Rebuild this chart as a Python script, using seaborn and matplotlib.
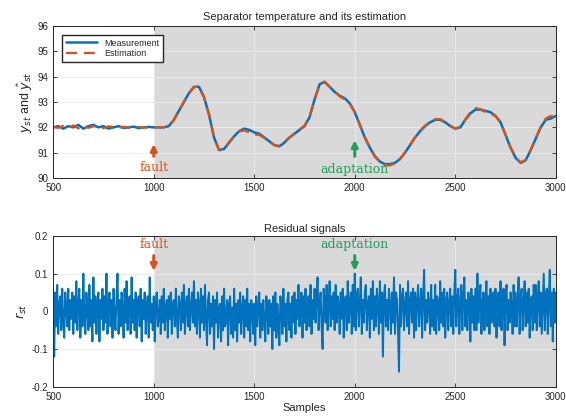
import matplotlib
matplotlib.use("Agg")
import matplotlib.pyplot as plt
import numpy as np
import pandas as pd
import seaborn as sns

# ---- data -------------------------------------------------------------------
# separator temperature, one value every 25 samples (500 ... 3000)
temp_samples = list(range(500, 3001, 25))
measurement = [
    92.0, 92.05, 91.95, 92.05, 92.0, 92.1, 91.95, 92.05, 92.1, 92.0,
    92.05, 91.95, 92.0, 92.05, 91.98, 92.0, 92.03, 91.97, 92.0, 92.02,
    92.0, 92.0, 92.0, 92.05, 92.3, 92.65, 93.0, 93.35, 93.6, 93.6,
    93.2, 92.5, 91.6, 91.1, 91.15, 91.4, 91.65, 91.85, 91.95, 91.9,
    91.8, 91.75, 91.6, 91.45, 91.3, 91.25, 91.4, 91.6, 91.75, 91.9,
    92.05, 92.4, 93.1, 93.7, 93.8, 93.6, 93.4, 93.25, 93.15, 92.95,
    92.6, 92.1, 91.6, 91.2, 90.85, 90.65, 90.55, 90.55, 90.6, 90.75,
    91.0, 91.3, 91.6, 91.85, 92.05, 92.2, 92.3, 92.3, 92.2, 92.05,
    91.95, 92.0, 92.3, 92.55, 92.7, 92.7, 92.65, 92.6, 92.45, 92.2,
    91.7, 91.2, 90.8, 90.6, 90.7, 91.1, 91.55, 92.0, 92.3, 92.35,
    92.45,
]
estimation = [
    92.02, 91.98, 92.06, 91.97, 92.08, 91.96, 92.07, 91.98, 92.05, 92.03,
    91.97, 92.04, 92.02, 91.98, 92.03, 91.99, 92.0, 92.02, 91.99, 92.0,
    92.01, 92.0, 92.01, 92.04, 92.28, 92.64, 93.01, 93.33, 93.58, 93.62,
    93.18, 92.52, 91.62, 91.12, 91.14, 91.42, 91.64, 91.84, 91.88, 91.8,
    91.72, 91.7, 91.58, 91.45, 91.3, 91.27, 91.42, 91.6, 91.76, 91.92,
    92.07, 92.42, 93.08, 93.68, 93.79, 93.6, 93.42, 93.22, 93.1, 92.92,
    92.6, 92.12, 91.62, 91.22, 90.87, 90.62, 90.5, 90.5, 90.57, 90.75,
    91.02, 91.32, 91.62, 91.87, 92.07, 92.22, 92.32, 92.32, 92.22, 92.07,
    91.95, 92.02, 92.32, 92.6, 92.76, 92.72, 92.6, 92.54, 92.45, 92.22,
    91.72, 91.22, 90.82, 90.62, 90.72, 91.12, 91.57, 92.02, 92.35, 92.45,
    92.4,
]

# residual signal, one value every 5 samples (500 ... 3000)
resid_samples = list(range(500, 3001, 5))
residual = [
    0.03, -0.12, 0.05, -0.04, 0.07, -0.06, 0.02, 0.04, -0.05, 0.06, -0.03, -0.07, 0.05, 0.01, -0.04, 0.06, -0.05, 0.03, -0.02, 0.05,
    -0.06, 0.04, -0.03, 0.08, -0.05, 0.02, 0.06, -0.07, 0.03, -0.04, 0.1, -0.02, -0.06, 0.05, 0.01, -0.05, 0.07, -0.04, 0.03, -0.08,
    0.09, -0.03, 0.04, -0.06, 0.02, 0.05, -0.08, 0.03, -0.02, 0.06, -0.05, 0.04, -0.03, 0.1, -0.06, 0.02, 0.05, -0.04, 0.03, -0.07,
    0.06, -0.02, -0.05, 0.04, 0.1, -0.06, 0.03, -0.04, 0.05, 0.01, -0.07, 0.06, -0.03, 0.08, -0.05, 0.02, 0.04, -0.06, 0.09, -0.03,
    0.03, -0.05, 0.05, -0.07, 0.02, 0.04, -0.04, 0.06, -0.08, 0.03, -0.02, 0.05, -0.06, 0.01, 0.04, -0.07, 0.09, -0.03, 0.02, -0.05,
    0.04, -0.08, 0.02, 0.05, -0.04, -0.02, 0.03, -0.06, 0.04, -0.03, 0.06, -0.05, 0.01, 0.03, -0.07, 0.04, -0.02, 0.05, -0.06, 0.02,
    0.03, -0.04, 0.06, -0.02, -0.07, 0.04, 0.02, -0.05, 0.05, -0.03, 0.07, -0.06, 0.02, 0.04, -0.04, 0.06, -0.05, 0.01, 0.05, -0.03,
    0.08, -0.04, 0.03, -0.06, 0.05, 0.02, -0.07, 0.06, -0.03, 0.04, -0.05, 0.07, -0.02, -0.09, 0.03, 0.05, -0.06, 0.02, -0.04, 0.04,
    -0.1, 0.03, -0.03, 0.05, -0.07, 0.01, 0.02, -0.08, 0.04, -0.05, 0.06, -0.04, -0.02, 0.03, -0.09, 0.02, 0.04, -0.06, 0.01, -0.07,
    0.06, -0.05, 0.02, -0.08, 0.03, -0.03, 0.05, -0.06, 0.01, 0.04, -0.07, 0.03, -0.04, 0.06, -0.05, 0.02, -0.08, 0.03, 0.01, -0.06,
    0.02, -0.09, 0.04, -0.04, 0.01, 0.05, -0.07, 0.02, -0.05, 0.03, -0.02, -0.08, 0.04, 0.01, -0.06, 0.03, -0.04, 0.02, -0.1, 0.04,
    -0.05, 0.05, -0.07, 0.02, -0.03, -0.09, 0.04, 0.01, -0.06, 0.06, -0.04, 0.02, -0.08, 0.03, 0.05, -0.05, 0.02, -0.07, 0.04, -0.03,
    0.05, -0.06, 0.03, -0.02, 0.07, -0.04, 0.02, 0.05, -0.07, 0.04, -0.03, 0.06, -0.05, 0.01, 0.04, -0.04, 0.07, -0.06, 0.03, -0.02,
    0.06, -0.03, 0.04, 0.09, -0.05, 0.02, 0.05, -0.04, -0.1, 0.06, 0.03, -0.03, 0.07, -0.05, 0.02, 0.08, -0.04, 0.04, -0.02, 0.05,
    -0.05, 0.07, -0.03, 0.04, 0.02, -0.06, 0.05, -0.02, 0.06, -0.07, 0.03, 0.04, -0.05, 0.08, -0.03, 0.02, 0.05, -0.06, 0.07, -0.04,
    0.1, -0.05, 0.04, 0.06, -0.04, 0.02, 0.09, -0.06, 0.03, -0.03, 0.05, 0.07, -0.05, 0.02, 0.04, -0.07, 0.06, -0.02, 0.08, -0.05,
    0.04, -0.04, 0.06, 0.02, -0.06, 0.08, -0.03, 0.05, -0.12, 0.04, 0.07, -0.04, 0.03, -0.05, 0.06, 0.02, -0.06, 0.05, -0.03, 0.09,
    -0.06, 0.05, 0.03, -0.05, -0.16, 0.07, -0.04, 0.04, 0.06, -0.05, 0.02, 0.05, -0.04, 0.08, -0.06, 0.03, 0.05, -0.03, 0.06, -0.07,
    0.05, -0.05, 0.03, 0.07, -0.04, 0.02, 0.06, -0.07, 0.04, 0.11, -0.05, 0.03, -0.03, 0.05, 0.02, -0.06, 0.07, -0.04, 0.03, -0.05,
    0.07, -0.06, 0.04, 0.02, -0.05, 0.08, -0.03, 0.05, -0.04, 0.06, -0.07, 0.03, 0.05, -0.05, 0.02, 0.06, -0.04, 0.04, -0.06, 0.05,
    0.11, -0.04, 0.03, 0.06, -0.06, 0.02, 0.07, -0.05, 0.04, 0.09, -0.04, 0.03, -0.05, 0.05, 0.02, -0.08, 0.06, -0.03, 0.04, -0.05,
    0.06, -0.05, 0.1, -0.03, 0.04, 0.07, -0.06, 0.02, 0.05, -0.05, 0.03, 0.08, -0.04, 0.04, -0.06, 0.06, -0.03, 0.02, 0.05, -0.04,
    0.06, -0.07, 0.03, 0.05, -0.04, 0.08, -0.05, 0.02, 0.06, -0.09, 0.04, 0.07, -0.05, 0.03, -0.03, 0.05, 0.02, -0.06, 0.07, -0.04,
    0.05, -0.04, 0.03, 0.09, -0.06, 0.04, 0.06, -0.05, 0.02, 0.08, -0.04, 0.05, -0.03, 0.06, -0.07, 0.03, 0.04, -0.05, 0.07, -0.03,
    0.07, -0.05, 0.03, 0.08, -0.04, 0.05, -0.06, 0.02, 0.1, -0.05, 0.04, 0.06, -0.06, 0.03, 0.11, -0.04, 0.05, -0.08, 0.06, -0.03,
    0.05,
]

FAULT_AT = 1000
ADAPT_AT = 2000
X_TICKS = [500, 1000, 1500, 2000, 2500, 3000]

BLUE = "#0072BD"
ORANGE = "#D95319"
GREEN = "#1FA05A"
SHADE = "#D9D9D9"

sns.set_style("ticks")
plt.rcParams["font.family"] = ["Liberation Sans", "DejaVu Sans"]

df_temp = pd.DataFrame({"sample": temp_samples, "meas": measurement, "est": estimation})
df_res = pd.DataFrame({"sample": resid_samples, "r": residual})

fig = plt.figure(figsize=(5.66, 4.19), dpi=100)
ax1 = fig.add_axes([0.094, 0.575, 0.888, 0.363])
ax2 = fig.add_axes([0.094, 0.077, 0.888, 0.360])


def estilo(ax, yticks):
    ax.set_xlim(500, 3000)
    ax.set_xticks(X_TICKS)
    ax.set_yticks(yticks)
    ax.axvspan(FAULT_AT, 3000, color=SHADE, zorder=0, lw=0)
    ax.grid(True, color="#ebebeb", lw=0.6, zorder=0.5)
    ax.set_axisbelow(True)
    ax.tick_params(direction="in", top=True, right=True, labelsize=7,
                   length=3, width=0.6, colors="#262626")
    for s in ax.spines.values():
        s.set_color("#262626")
        s.set_linewidth(0.7)


# upper panel
sns.lineplot(data=df_temp, x="sample", y="meas", ax=ax1, color=BLUE, lw=1.8,
             label="Measurement")
sns.lineplot(data=df_temp, x="sample", y="est", ax=ax1, color=ORANGE, lw=1.6,
             linestyle=(0, (5, 3)), label="Estimation")
estilo(ax1, [90, 91, 92, 93, 94, 95, 96])
ax1.set_ylim(90, 96)
ax1.set_title("Separator temperature and its estimation", fontsize=8, pad=4)
ax1.set_xlabel("")
ax1.set_ylabel(r"$y_{st}$ and $\hat{y}_{st}$", fontsize=9, labelpad=2)
ax1.legend(loc="upper left", fontsize=6.5, frameon=True, fancybox=False,
           edgecolor="#262626", framealpha=1, handlelength=3.5,
           borderaxespad=1.0, labelspacing=0.2)

ax1.annotate("", xy=(FAULT_AT, 91.45), xytext=(FAULT_AT, 90.75),
             arrowprops=dict(arrowstyle="-|>", color=ORANGE, lw=2.2,
                             mutation_scale=9))
ax1.text(FAULT_AT, 90.42, "fault", color=ORANGE, ha="center", va="center",
         fontsize=9, family="serif")
ax1.annotate("", xy=(ADAPT_AT, 91.6), xytext=(ADAPT_AT, 90.75),
             arrowprops=dict(arrowstyle="-|>", color=GREEN, lw=2.2,
                             mutation_scale=9))
ax1.text(ADAPT_AT, 90.35, "adaptation", color=GREEN, ha="center", va="center",
         fontsize=9, family="serif")

# lower panel
sns.lineplot(data=df_res, x="sample", y="r", ax=ax2, color=BLUE, lw=1.4)
estilo(ax2, [-0.2, -0.1, 0, 0.1, 0.2])
ax2.set_ylim(-0.2, 0.2)
ax2.set_yticklabels(["-0.2", "-0.1", "0", "0.1", "0.2"])
ax2.set_title("Residual signals", fontsize=8, pad=3)
ax2.set_xlabel("Samples", fontsize=8, labelpad=1)
ax2.set_ylabel(r"$r_{st}$", fontsize=9, labelpad=2)

ax2.annotate("", xy=(FAULT_AT, 0.1), xytext=(FAULT_AT, 0.155),
             arrowprops=dict(arrowstyle="-|>", color=ORANGE, lw=2.2,
                             mutation_scale=9))
ax2.text(FAULT_AT, 0.178, "fault", color=ORANGE, ha="center", va="center",
         fontsize=9, family="serif")
ax2.annotate("", xy=(ADAPT_AT, 0.1), xytext=(ADAPT_AT, 0.155),
             arrowprops=dict(arrowstyle="-|>", color=GREEN, lw=2.2,
                             mutation_scale=9))
ax2.text(ADAPT_AT, 0.178, "adaptation", color=GREEN, ha="center", va="center",
         fontsize=9, family="serif")

fig.savefig("out.png", dpi=100)
plt.close(fig)
